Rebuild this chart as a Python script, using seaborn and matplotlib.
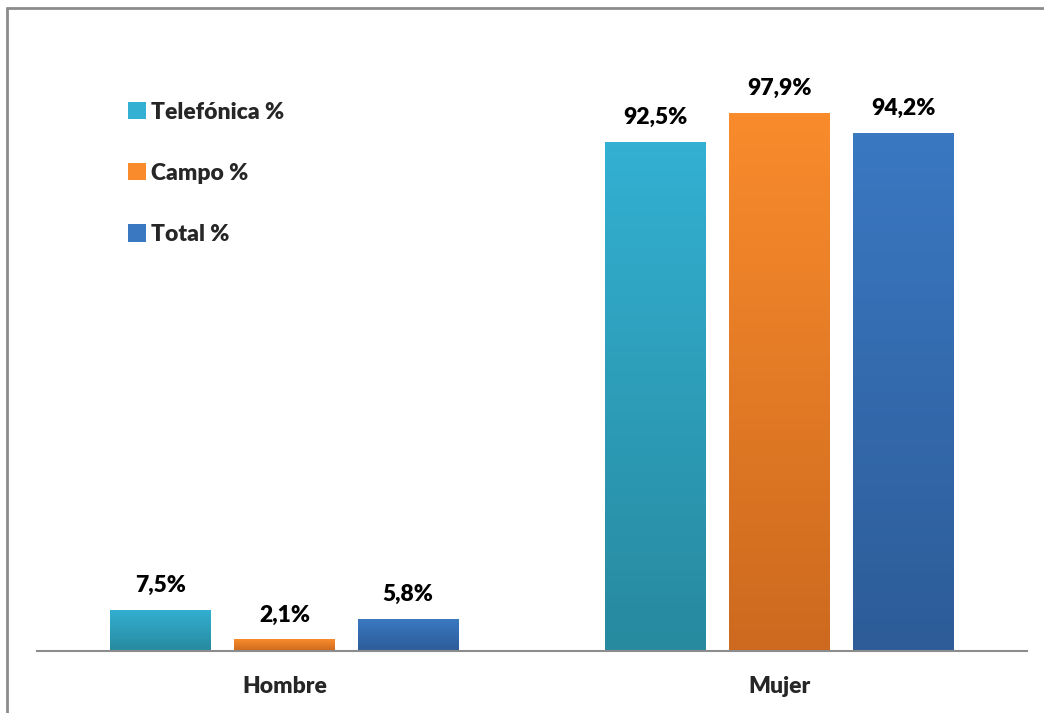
import numpy as np
import pandas as pd
import seaborn as sns
import matplotlib.pyplot as plt
import matplotlib.colors as mcolors
from matplotlib.lines import Line2D

# data
categories = ['Hombre', 'Mujer']
series = ['Telefónica %', 'Campo %', 'Total %']
telefonica = [7.5, 92.5]
campo = [2.1, 97.9]
total = [5.8, 94.2]

colors = ['#33B0D2', '#F98B2C', '#3A78C2']
dark = ['#278A9F', '#CD6A1F', '#2D5C98']

df = pd.DataFrame({
    'sexo': categories * 3,
    'serie': [s for s in series for _ in categories],
    'valor': telefonica + campo + total,
})

sns.set_style('white')
plt.rcParams['font.family'] = ['Lato', 'DejaVu Sans']
plt.rcParams['font.weight'] = 'heavy'
FS = 16.5

fig = plt.figure(figsize=(10.44, 7.13), dpi=100)
ax = fig.add_axes([37 / 1044, 1 - 651 / 713, 990 / 1044, 611 / 713])

sns.barplot(data=df, x='sexo', y='valor', hue='serie', hue_order=series,
            palette=colors, width=0.75, gap=0.185, ax=ax, linewidth=0,
            saturation=1, err_kws={'linewidth': 0})

# vertical gradient on every bar, light top to darker bottom
for i, cont in enumerate(ax.containers):
    cmap = mcolors.LinearSegmentedColormap.from_list('g', [dark[i], colors[i]])
    for p in cont:
        x0, y0 = p.get_x(), p.get_y()
        w, h = p.get_width(), p.get_height()
        im = ax.imshow(np.linspace(0, 1, 100).reshape(-1, 1), cmap=cmap,
                       extent=[x0, x0 + w, y0, y0 + h], origin='lower',
                       aspect='auto', zorder=p.get_zorder() + 0.1)
        im.set_clip_path(p)
    labels = [f'{v:.1f}%'.replace('.', ',') for v in cont.datavalues]
    ax.bar_label(cont, labels=labels, padding=10, fontsize=FS,
                 fontweight='heavy', color='black')

ax.set_xlim(-0.5, 1.5)
ax.set_ylim(0, 611 / 5.5)
ax.set_xlabel('')
ax.set_ylabel('')
ax.set_yticks([])
ax.tick_params(axis='x', length=0, pad=18, labelsize=FS)
for lbl in ax.get_xticklabels():
    lbl.set_fontweight('heavy')
for side in ['top', 'right', 'left']:
    ax.spines[side].set_visible(False)
ax.spines['bottom'].set_color('#8C8C8C')
ax.spines['bottom'].set_linewidth(1.5)

handles = [plt.Rectangle((0, 0), 1, 1, facecolor=c, edgecolor='none') for c in colors]
leg = ax.legend(handles, series, loc='upper left', bbox_to_anchor=(0.071, 0.933),
                frameon=False, prop={'weight': 'heavy', 'size': FS},
                handlelength=0.8, handleheight=0.8, handletextpad=0.2,
                labelspacing=1.75)

# outer frame lines (left and top only are visible in the reference)
fig.add_artist(Line2D([7 / 1044, 7 / 1044], [0, 1 - 8 / 713], color='#8C8C8C', lw=2))
fig.add_artist(Line2D([7 / 1044, 1], [1 - 8 / 713, 1 - 8 / 713], color='#8C8C8C', lw=2))

fig.savefig('out.png', dpi=100)
